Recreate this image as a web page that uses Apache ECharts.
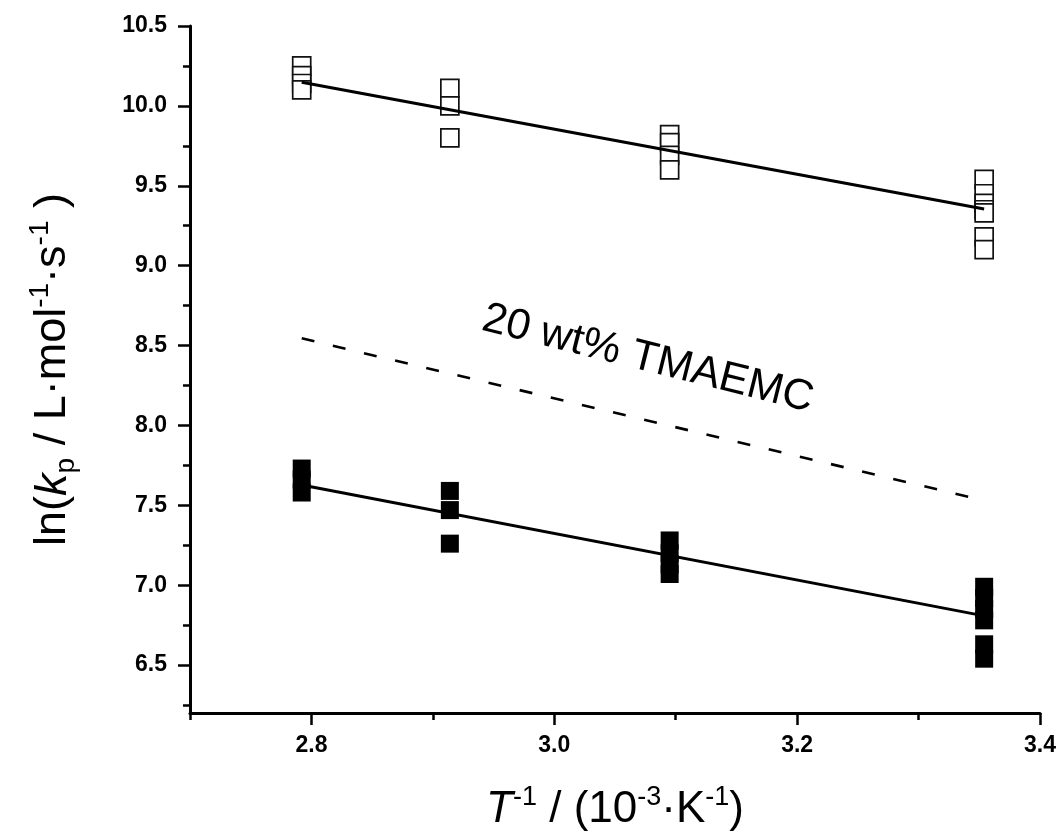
<!DOCTYPE html>
<html>
<head>
<meta charset="utf-8">
<script src="https://cdn.jsdelivr.net/npm/echarts@6/dist/echarts.min.js"></script>
<style>
html,body{margin:0;padding:0;background:#fff;}
#chart{width:1059px;height:837px;}
</style>
</head>
<body>
<div id="chart"></div>
<script>
// ---- data ----
const invT = [2.792, 2.914, 3.095, 3.354];            // T^-1 / (10^-3 K^-1)
const upperY = [                                        // open squares
  [10.25, 10.19, 10.14, 10.10],
  [10.11, 10.00, 9.80],
  [9.82, 9.77, 9.69, 9.60],
  [9.54, 9.45, 9.39, 9.35, 9.33, 9.18, 9.10]
];
const lowerY = [                                        // filled squares
  [7.73, 7.66, 7.58],
  [7.59, 7.47, 7.26],
  [7.28, 7.20, 7.13, 7.07],
  [6.99, 6.92, 6.85, 6.78, 6.63, 6.54]
];
const fitUpperX = [2.792, 3.354];
const fitUpperY = [10.148, 9.355];
const fitLowerX = [2.792, 3.354];
const fitLowerY = [7.627, 6.808];
const dashX = [2.792, 3.354];
const dashY = [8.545, 7.53];
const xMajor = [2.8, 3.0, 3.2, 3.4];
const xMinor = [2.7, 2.9, 3.1, 3.3];
const yMajor = [6.5, 7.0, 7.5, 8.0, 8.5, 9.0, 9.5, 10.0, 10.5];
const yMinor = [6.25, 6.75, 7.25, 7.75, 8.25, 8.75, 9.25, 9.75, 10.25];
const noteText = '20 wt% TMAEMC';

// ---- build ----
function pts(xs, ys) {
  const out = [];
  xs.forEach((x, i) => ys[i].forEach(y => out.push([x, y])));
  return out;
}
function pairs(xs, ys) { return xs.map((x, i) => [x, ys[i]]); }

const FONT = '"Liberation Sans", Arial, Helvetica, sans-serif';
const X_MIN = 2.7, X_MAX = 3.4, Y_MIN = 6.2, Y_MAX = 10.5;

const chart = echarts.init(document.getElementById('chart'), null, {renderer: 'canvas'});

const tickLabel = {fontFamily: FONT, fontWeight: 'bold', fontSize: 23, color: '#000'};

const option = {
  animation: false,
  backgroundColor: '#fff',
  grid: {left: 190, right: 18, top: 26, bottom: 120},
  xAxis: [
    {
      type: 'value', min: X_MIN, max: X_MAX, position: 'bottom', offset: 0,
      axisLine: {show: true, lineStyle: {color: '#000', width: 3}},
      axisTick: {show: true, inside: false, length: 12, lineStyle: {color: '#000', width: 2.5}, customValues: xMajor},
      axisLabel: Object.assign({margin: 21, customValues: xMajor, formatter: v => v.toFixed(1)}, tickLabel),
      splitLine: {show: false},
      name: '{i|T}{sup|-1}{n| / (10}{sup|-3}{n|·K}{sup|-1}{n|)}',
      nameLocation: 'middle', nameGap: 71,
      nameTextStyle: {
        fontFamily: FONT, color: '#000',
        rich: {
          i: {fontFamily: FONT, fontSize: 44, fontStyle: 'italic', lineHeight: 52, color: '#000'},
          n: {fontFamily: FONT, fontSize: 44, lineHeight: 52, color: '#000'},
          sup: {fontFamily: FONT, fontSize: 27, lineHeight: 27, verticalAlign: 'top', color: '#000'}
        }
      }
    },
    {
      type: 'value', min: X_MIN, max: X_MAX, position: 'bottom', offset: 0,
      axisLine: {show: false},
      axisTick: {show: true, inside: false, length: 7, lineStyle: {color: '#000', width: 2.5}, customValues: xMinor},
      axisLabel: {show: false},
      splitLine: {show: false}
    }
  ],
  yAxis: [
    {
      type: 'value', min: Y_MIN, max: Y_MAX, position: 'left', offset: 0,
      axisLine: {show: true, lineStyle: {color: '#000', width: 3}},
      axisTick: {show: true, inside: false, length: 12, lineStyle: {color: '#000', width: 2.5}, customValues: yMajor},
      axisLabel: Object.assign({margin: 23, customValues: yMajor, formatter: v => v.toFixed(1)}, tickLabel),
      splitLine: {show: false},
      name: '{n|ln(}{i|k}{sub|p}{n| / L·mol}{sup|-1}{n|·s}{sup|-1}{n| )}',
      nameLocation: 'middle', nameGap: 110, nameRotate: 90,
      nameTextStyle: {
        fontFamily: FONT, color: '#000',
        rich: {
          i: {fontFamily: FONT, fontSize: 45, fontStyle: 'italic', lineHeight: 54, color: '#000'},
          n: {fontFamily: FONT, fontSize: 45, lineHeight: 54, color: '#000'},
          sup: {fontFamily: FONT, fontSize: 28, lineHeight: 28, verticalAlign: 'top', color: '#000'},
          sub: {fontFamily: FONT, fontSize: 28, lineHeight: 28, verticalAlign: 'bottom', color: '#000'}
        }
      }
    },
    {
      type: 'value', min: Y_MIN, max: Y_MAX, position: 'left', offset: 0,
      axisLine: {show: false},
      axisTick: {show: true, inside: false, length: 7, lineStyle: {color: '#000', width: 2.5}, customValues: yMinor},
      axisLabel: {show: false},
      splitLine: {show: false}
    }
  ],
  series: [
    {
      type: 'line', xAxisIndex: 0, yAxisIndex: 0, data: pairs(fitUpperX, fitUpperY),
      symbol: 'none', lineStyle: {color: '#000', width: 3}, silent: true
    },
    {
      type: 'line', xAxisIndex: 0, yAxisIndex: 0, data: pairs(fitLowerX, fitLowerY),
      symbol: 'none', lineStyle: {color: '#000', width: 3}, silent: true
    },
    {
      type: 'line', xAxisIndex: 0, yAxisIndex: 0, data: pairs(dashX, dashY),
      symbol: 'none', lineStyle: {color: '#000', width: 2.6, type: [13, 19]}, silent: true
    },
    {
      type: 'scatter', xAxisIndex: 0, yAxisIndex: 0, data: pts(invT, upperY),
      symbol: 'rect', symbolSize: 18,
      itemStyle: {color: '#fff', borderColor: '#111', borderWidth: 1.7, opacity: 1}
    },
    {
      type: 'scatter', xAxisIndex: 0, yAxisIndex: 0, data: pts(invT, lowerY),
      symbol: 'rect', symbolSize: 18,
      itemStyle: {color: '#000', borderColor: '#000', borderWidth: 0, opacity: 1}
    },
    {
      type: 'scatter', xAxisIndex: 0, yAxisIndex: 0,
      data: [[3.077, 8.415]], symbolSize: 0, silent: true,
      itemStyle: {opacity: 1},
      label: {
        show: true, position: 'inside', rotate: -14, formatter: noteText,
        fontFamily: FONT, fontSize: 43, color: '#000', opacity: 1
      }
    }
  ]
};
chart.setOption(option);
</script>
</body>
</html>
